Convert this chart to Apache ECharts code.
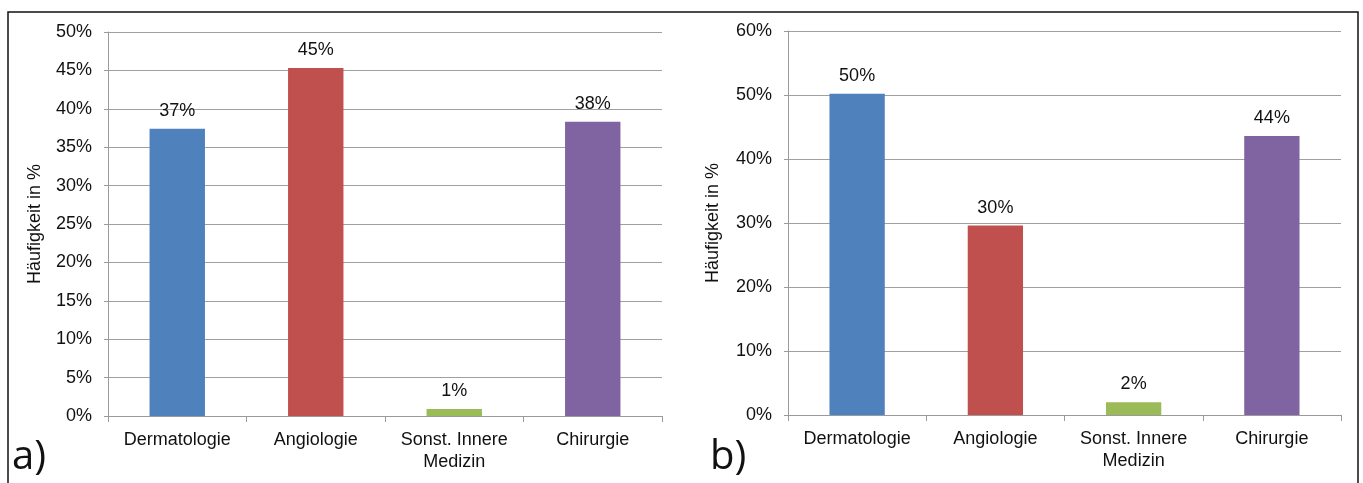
<!DOCTYPE html>
<html><head><meta charset="utf-8">
<script src="https://cdn.jsdelivr.net/npm/echarts@6/dist/echarts.min.js"></script>
<style>html,body{margin:0;padding:0;background:#fff}#c{width:1363px;height:483px}</style>
</head><body><div id="c"></div>
<script>
const categories = ['Dermatologie', 'Angiologie', 'Sonst. Innere\nMedizin', 'Chirurgie'];
const valuesA = [37.4, 45.3, 0.9, 38.3];
const valuesB = [50.2, 29.6, 2.0, 43.6];
const colors = ['#4F81BD', '#C0504D', '#9BBB59', '#8064A2'];
const ticksA = {min: 0, max: 50, interval: 5};
const ticksB = {min: 0, max: 60, interval: 10};
const yName = 'Häufigkeit in %';
const font = 'Liberation Sans, Arial, sans-serif';

const chart = echarts.init(document.getElementById('c'), null, {renderer: 'canvas'});
function xAxis(gi) {
  return {
    type: 'category', gridIndex: gi, data: categories,
    axisLine: {lineStyle: {color: '#9a9a9a', width: 1}},
    axisTick: {show: true, length: 6, lineStyle: {color: '#9a9a9a'}},
    axisLabel: {color: '#111', fontSize: 18, fontFamily: font, margin: 13, lineHeight: 22, interval: 0}
  };
}
function yAxis(gi, t, gap) {
  return {
    type: 'value', gridIndex: gi, min: t.min, max: t.max, interval: t.interval,
    name: yName, nameLocation: 'middle', nameGap: gap, nameRotate: 90,
    nameTextStyle: {color: '#111', fontSize: 18, fontFamily: font},
    axisLine: {show: true, lineStyle: {color: '#9a9a9a', width: 1}},
    axisTick: {show: true, length: 4, lineStyle: {color: '#9a9a9a'}},
    axisLabel: {color: '#111', fontSize: 18, fontFamily: font, margin: 16, formatter: v => v + '%'},
    splitLine: {show: true, lineStyle: {color: '#a0a0a0', width: 1.2}}
  };
}
function series(gi, vals) {
  return {
    type: 'bar', xAxisIndex: gi, yAxisIndex: gi, barWidth: '40%',
    data: vals.map((v, i) => ({value: v, itemStyle: {color: colors[i]}})),
    label: {show: true, position: 'top', distance: 9, color: '#111', fontSize: 18, fontFamily: font,
      formatter: p => Math.round(p.value) + '%'}
  };
}
chart.setOption({
  animation: false,
  grid: [
    {left: 108, right: 701, top: 32, bottom: 67},
    {left: 788, right: 22, top: 31, bottom: 68}
  ],
  xAxis: [xAxis(0), xAxis(1)],
  yAxis: [yAxis(0, ticksA, 64), yAxis(1, ticksB, 66)],
  series: [series(0, valuesA), series(1, valuesB)],
  graphic: [
    {type: 'rect', shape: {x: 8, y: 12, width: 1350, height: 490}, style: {fill: 'none', stroke: '#111', lineWidth: 1.5}, silent: true},
    {type: 'text', left: 12, top: 438, style: {text: 'a)', fontSize: 40, fontFamily: 'Open Sans, DejaVu Sans, sans-serif', fill: '#111'}},
    {type: 'text', left: 710, top: 438, style: {text: 'b)', fontSize: 40, fontFamily: 'Open Sans, DejaVu Sans, sans-serif', fill: '#111'}}
  ]
});
</script></body></html>
